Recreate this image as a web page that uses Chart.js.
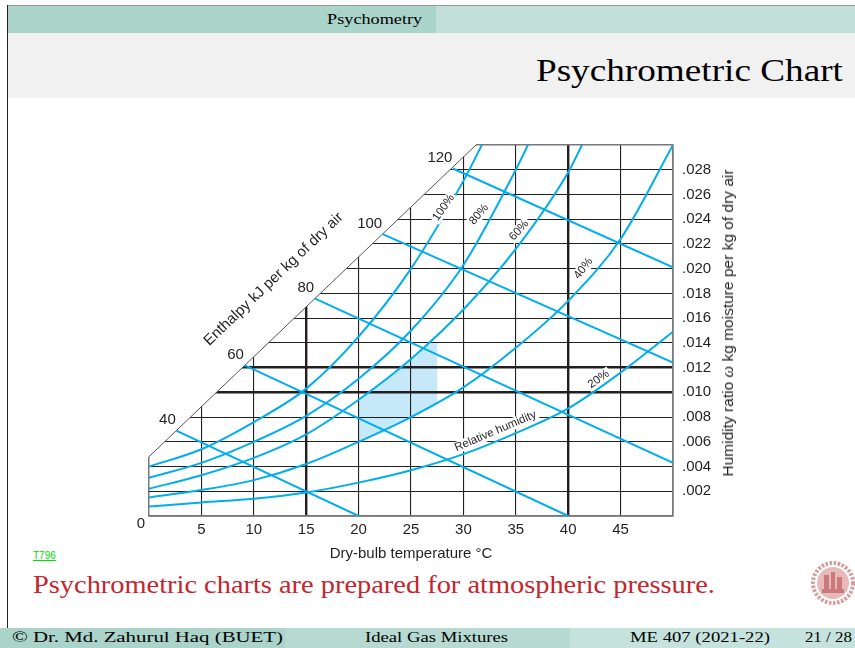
<!DOCTYPE html>
<html>
<head>
<meta charset="utf-8">
<title>Psychrometric Chart</title>
<script src="https://cdn.jsdelivr.net/npm/chart.js@4.4.1/dist/chart.umd.min.js"></script>
<style>
html,body{margin:0;padding:0;}
body{width:855px;height:648px;position:relative;overflow:hidden;background:#fff;font-family:"Liberation Serif","DejaVu Serif",serif;color:#000;}
.abs{position:absolute;white-space:nowrap;}
#topRule{left:7px;top:5px;width:848px;height:1px;background:#9a9a9a;}
#leftRule{left:7px;top:5px;width:1px;height:623px;background:#222;}
#hdrL{left:8px;top:6px;width:428px;height:27px;background:#aad3ca;}
#hdrR{left:436px;top:6px;width:419px;height:27px;background:#c2e0d9;}
#hdrText{right:433px;top:6px;line-height:27px;font-size:14px;transform-origin:right center;}
#titleBar{left:8px;top:33px;width:847px;height:65px;background:#f1f1f1;}
#title{right:12px;top:50px;line-height:40px;font-size:32px;transform-origin:right center;}
#chartBox{left:119px;top:125px;width:644px;height:441px;}
#yTitle{left:728px;top:323px;font-family:"Liberation Sans",Arial,sans-serif;font-size:15.5px;color:#231f20;transform:translate(-50%,-50%) rotate(-90deg);}
#yTitle i{font-family:"Liberation Serif",serif;font-size:16.5px;}
#link{left:33px;top:550px;font-family:"Liberation Sans",Arial,sans-serif;font-size:10px;color:#00e000;text-decoration:underline;}
#note{left:33px;top:568px;line-height:34px;font-size:26px;color:#c4262e;transform-origin:left center;}
#logo{left:811px;top:561px;width:44px;height:44px;}
.foot{top:628px;height:20px;}
#fL{left:0;width:285px;background:#aad3ca;}
#fM{left:285px;width:285px;background:#b6dad1;}
#fR{left:570px;width:285px;background:#c5e3dc;}
.ft{top:628px;line-height:20px;font-size:14px;}
#ftL{left:12px;transform-origin:left center;}
#ftM{left:365px;transform-origin:left center;}
#ftR1{left:630px;transform-origin:left center;}
#ftR2{right:3px;transform-origin:right center;}
</style>
</head>
<body>
<div class="abs" id="topRule"></div>
<div class="abs" id="hdrL"></div>
<div class="abs" id="hdrR"></div>
<div class="abs fit" id="hdrText" data-w="95">Psychometry</div>
<div class="abs" id="titleBar"></div>
<div class="abs fit" id="title" data-w="307">Psychrometric Chart</div>
<div class="abs" id="leftRule"></div>

<div class="abs" id="chartBox"><canvas id="chart" width="644" height="441"></canvas></div>
<div class="abs" id="yTitle">Humidity ratio <i>ω</i> kg moisture per kg of dry air</div>

<div class="abs" id="link">T796</div>
<div class="abs fit" id="note" data-w="682">Psychrometric charts are prepared for atmospheric pressure.</div>
<svg class="abs" id="logo" viewBox="0 0 44 44">
  <circle cx="22" cy="22" r="20" fill="none" stroke="#d89a9a" stroke-width="4" stroke-dasharray="2.5 1.6"/>
  <circle cx="22" cy="22" r="16" fill="#e9b9b9"/>
  <rect x="13" y="14" width="5" height="14" fill="#c97a7a"/>
  <rect x="20" y="11" width="4" height="17" fill="#c97a7a"/>
  <rect x="26" y="16" width="5" height="12" fill="#c97a7a"/>
  <rect x="11" y="28" width="22" height="4" fill="#c97a7a"/>
</svg>

<div class="abs foot" id="fL"></div>
<div class="abs foot" id="fM"></div>
<div class="abs foot" id="fR"></div>
<div class="abs ft fit" id="ftL" data-w="271">© Dr. Md. Zahurul Haq (BUET)</div>
<div class="abs ft fit" id="ftM" data-w="143">Ideal Gas Mixtures</div>
<div class="abs ft fit" id="ftR1" data-w="140">ME 407 (2021-22)</div>
<div class="abs ft fit" id="ftR2" data-w="47">21 / 28</div>

<script>
// ---------- data ----------
// x-axis: dry-bulb temperature (°C); y-axis: humidity ratio (kg/kg dry air)
const xTickLabels = ['', '5', '10', '15', '20', '25', '30', '35', '40', '45', ''];
const yTickLabels = ['', '.002', '.004', '.006', '.008', '.010', '.012', '.014',
                     '.016', '.018', '.020', '.022', '.024', '.026', '.028', ''];

// relative humidity curves
const rhLevels = ['100%', '80%', '60%', '40%', '20%'];
const rh100T = [0, 5, 10, 15, 20, 25, 30, 32];
const rh100W = [0.0040, 0.0054, 0.0076, 0.0103, 0.0145, 0.0200, 0.0271, 0.0304];
const rh80T = [0, 5, 10, 15, 20, 25, 30, 35, 37];
const rh80W = [0.0031, 0.0043, 0.0060, 0.0081, 0.0111, 0.0150, 0.0203, 0.0280, 0.0315];
const rh60T = [0, 5, 10, 15, 20, 25, 30, 35, 40, 42];
const rh60W = [0.0022, 0.0033, 0.0047, 0.0066, 0.0094, 0.0127, 0.0167, 0.0216, 0.0278, 0.0312];
const rh40T = [0, 5, 10, 15, 20, 25, 30, 35, 40, 45, 50];
const rh40W = [0.0015, 0.0021, 0.0029, 0.0042, 0.0060, 0.0080, 0.0104, 0.0136, 0.0174, 0.0224, 0.0300];
const rh20T = [0, 5, 10, 15, 20, 25, 30, 35, 40, 45, 50];
const rh20W = [0.00076, 0.0011, 0.0014, 0.0019, 0.0027, 0.0037, 0.0050, 0.0067, 0.0087, 0.0116, 0.0149];

// enthalpy lines (kJ per kg of dry air): start on the enthalpy scale, end on the chart edge
const enthalpyLabels = ['40', '60', '80', '100', '120'];
const enthalpyStartT = [2.6, 9.1, 15.8, 22.3, 29.0];
const enthalpyStartW = [0.0069, 0.0122, 0.0176, 0.0228, 0.0281];
const enthalpyEndT = [20.0, 40.0, 50.0, 50.0, 50.0];
const enthalpyEndW = [0.0, 0.0, 0.0043, 0.0124, 0.0201];

// enthalpy scale (diagonal boundary of the chart)
const diagonalT = [0, 31.2];
const diagonalW = [0.0048, 0.0300];

// shaded comfort zone
const comfortT = [20, 22, 24, 26, 26.8, 27.5, 27.5, 25, 22.5, 20];
const comfortW = [0.0094, 0.0106, 0.0119, 0.0133, 0.0140, 0.0140, 0.0090, 0.0080, 0.0070, 0.0060];

// ---------- chart ----------
const BLUE = '#00aeef';
const INK = '#231f20';
const FRAME = '#77787b';
const SANS = '"Liberation Sans", Arial, sans-serif';

const toPoints = (ts, ws) => ts.map((t, i) => ({x: t, y: ws[i]}));

const rhSeries = [[rh100T, rh100W], [rh80T, rh80W], [rh60T, rh60W], [rh40T, rh40W], [rh20T, rh20W]];
const datasets = [];
rhSeries.forEach(([ts, ws], i) => datasets.push({
  label: rhLevels[i], data: toPoints(ts, ws), showLine: true, borderColor: BLUE,
  borderWidth: 2, pointRadius: 0, cubicInterpolationMode: 'monotone', fill: false
}));
enthalpyLabels.forEach((lab, i) => datasets.push({
  label: 'h = ' + lab, data: toPoints([enthalpyStartT[i], enthalpyEndT[i]], [enthalpyStartW[i], enthalpyEndW[i]]),
  showLine: true, borderColor: BLUE, borderWidth: 2, pointRadius: 0, fill: false
}));
datasets.push({
  label: 'enthalpy scale', data: toPoints(diagonalT, diagonalW), showLine: true,
  borderColor: '#555', borderWidth: 1, pointRadius: 0, fill: false
});

const rhLabelSpots = [
  {text: '100%', t: 28.12, w: 0.02494, angle: -55},
  {text: '80%', t: 31.48, w: 0.02439, angle: -50},
  {text: '60%', t: 35.32, w: 0.02311, angle: -48},
  {text: '40%', t: 41.45, w: 0.02002, angle: -52},
  {text: '20%', t: 42.91, w: 0.01106, angle: -35},
  {text: 'Relative humidity', t: 33.06, w: 0.00685, angle: -23}
];

const decor = {
  id: 'decor',
  beforeDraw(chart) {
    const {ctx, scales: {x, y}} = chart;
    ctx.save();
    ctx.beginPath();
    comfortT.forEach((t, i) => {
      const px = x.getPixelForValue(t), py = y.getPixelForValue(comfortW[i]);
      if (i) ctx.lineTo(px, py); else ctx.moveTo(px, py);
    });
    ctx.closePath();
    ctx.fillStyle = '#c6e9f9';
    ctx.fill();
    ctx.restore();
  },
  beforeDatasetsDraw(chart) {
    const {ctx, chartArea: a, scales: {x, y}} = chart;
    const x0 = x.getPixelForValue(diagonalT[0]), y0 = y.getPixelForValue(diagonalW[0]);
    const x1 = x.getPixelForValue(diagonalT[1]), y1 = y.getPixelForValue(diagonalW[1]);
    ctx.save();
    ctx.beginPath();
    ctx.moveTo(a.left - 6, y0);
    ctx.lineTo(x0, y0);
    ctx.lineTo(x1, y1);
    ctx.lineTo(x1, a.top - 6);
    ctx.lineTo(a.left - 6, a.top - 6);
    ctx.closePath();
    ctx.fillStyle = '#fff';
    ctx.fill();
    ctx.restore();
  },
  afterDatasetsDraw(chart) {
    const {ctx, scales: {x, y}} = chart;
    ctx.save();
    ctx.fillStyle = INK;
    // enthalpy scale numbers
    ctx.font = '15px ' + SANS;
    ctx.textAlign = 'right';
    ctx.textBaseline = 'middle';
    enthalpyLabels.forEach((lab, i) => {
      ctx.fillText(lab, x.getPixelForValue(enthalpyStartT[i]) - 0.5, y.getPixelForValue(enthalpyStartW[i]) - 10.5);
    });
    // origin label
    ctx.textAlign = 'center';
    ctx.fillText('0', x.getPixelForValue(0) - 8, y.getPixelForValue(0) + 7.5);
    // enthalpy axis title along the diagonal
    const x0 = x.getPixelForValue(diagonalT[0]), y0 = y.getPixelForValue(diagonalW[0]);
    const x1 = x.getPixelForValue(diagonalT[1]), y1 = y.getPixelForValue(diagonalW[1]);
    const ang = Math.atan2(y1 - y0, x1 - x0);
    const f = 0.471;
    const cx = x0 + (x1 - x0) * f + Math.sin(ang) * 42.5;
    const cy = y0 + (y1 - y0) * f - Math.cos(ang) * 42.5;
    ctx.save();
    ctx.translate(cx, cy);
    ctx.rotate(ang);
    ctx.fillText('Enthalpy kJ per kg of dry air', 0, 0);
    ctx.restore();
    // relative humidity labels
    ctx.font = '11.5px ' + SANS;
    rhLabelSpots.forEach(s => {
      const px = x.getPixelForValue(s.t), py = y.getPixelForValue(s.w);
      ctx.save();
      ctx.translate(px, py);
      ctx.rotate(s.angle * Math.PI / 180);
      const wd = ctx.measureText(s.text).width;
      ctx.fillStyle = '#fff';
      ctx.fillRect(-wd / 2 - 2, -6, wd + 4, 12);
      ctx.fillStyle = INK;
      ctx.fillText(s.text, 0, 0);
      ctx.restore();
    });
    ctx.restore();
  }
};

const isNear = (a, b) => Math.abs(a - b) < 1e-6;
const noPad = s => { s.paddingLeft = 0; s.paddingRight = 0; s.paddingTop = 0; s.paddingBottom = 0; };

new Chart(document.getElementById('chart'), {
  type: 'scatter',
  data: {datasets},
  options: {
    responsive: false,
    animation: false,
    layout: {padding: {left: 30, top: 20, right: 0, bottom: 0}},
    plugins: {legend: {display: false}, tooltip: {enabled: false}},
    scales: {
      x: {
        type: 'linear', position: 'bottom', min: 0, max: 50,
        afterFit: s => { s.height = 50; noPad(s); },
        ticks: {stepSize: 5, autoSkip: false, maxRotation: 0, padding: 5,
                color: INK, font: {family: SANS, size: 15},
                callback: (v, i) => xTickLabels[i] ?? ''},
        grid: {drawTicks: false,
               color: c => (isNear(c.tick.value, 0) || isNear(c.tick.value, 50)) ? FRAME : INK,
               lineWidth: c => (isNear(c.tick.value, 15) || isNear(c.tick.value, 40)) ? 2.4 :
                               (isNear(c.tick.value, 0) || isNear(c.tick.value, 50)) ? 1.5 : 1.1},
        border: {display: true, color: FRAME, width: 1.8},
        title: {display: true, text: 'Dry-bulb temperature °C', color: INK,
                font: {family: SANS, size: 15}, padding: {top: 0, bottom: 3.5}}
      },
      y: {
        type: 'linear', position: 'right', min: 0, max: 0.030,
        afterFit: s => { s.width = 90; noPad(s); },
        ticks: {stepSize: 0.002, autoSkip: false, padding: 9,
                color: INK, font: {family: SANS, size: 15},
                callback: (v, i) => yTickLabels[i] ?? ''},
        grid: {drawTicks: false,
               color: c => (isNear(c.tick.value, 0) || isNear(c.tick.value, 0.03)) ? FRAME : INK,
               lineWidth: c => (isNear(c.tick.value, 0.010) || isNear(c.tick.value, 0.012)) ? 2.4 :
                               (isNear(c.tick.value, 0) || isNear(c.tick.value, 0.03)) ? 1.5 : 1.1},
        border: {display: true, color: FRAME, width: 1.5}
      }
    }
  },
  plugins: [decor]
});

// fit slide texts to the widths measured on the reference
function fitTexts() {
  document.querySelectorAll('.fit').forEach(el => {
    el.style.transform = 'none';
    const w = el.getBoundingClientRect().width;
    const target = parseFloat(el.dataset.w);
    if (w > 0) el.style.transform = 'scaleX(' + (target / w).toFixed(4) + ')';
  });
}
fitTexts();
if (document.fonts && document.fonts.ready) document.fonts.ready.then(fitTexts);
</script>
</body>
</html>
